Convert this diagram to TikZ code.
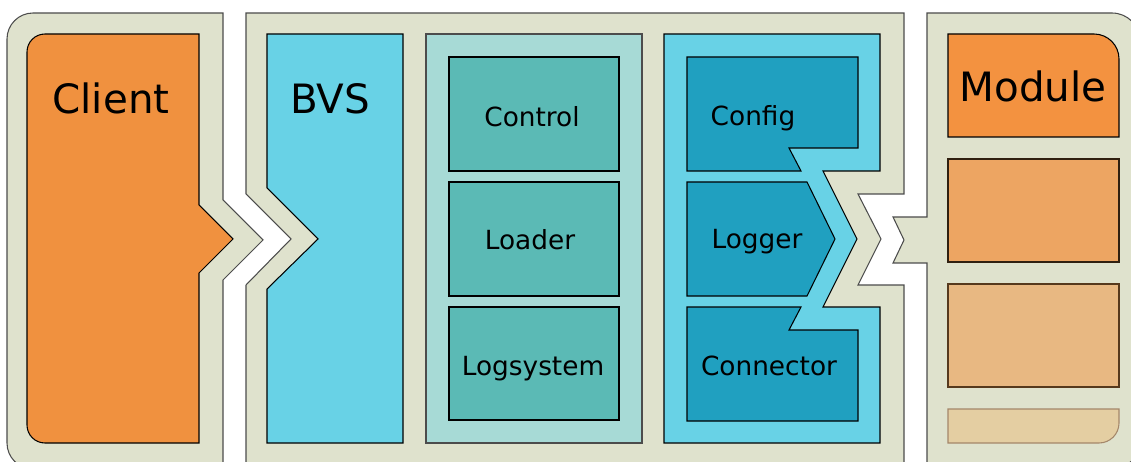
\documentclass[tikz,border=0pt]{standalone}
\usepackage{fontspec}
\setmainfont{DejaVu Sans}
\definecolor{frameclr}{HTML}{DFE2CD}
\definecolor{clientclr}{HTML}{F0913F}
\definecolor{bvsclr}{HTML}{68D2E6}
\definecolor{coreclr}{HTML}{A7DAD6}
\definecolor{coreboxclr}{HTML}{5BBAB5}
\definecolor{ioboxclr}{HTML}{20A0C0}
\definecolor{modclr}{HTML}{F39240}
\definecolor{modclrb}{HTML}{EDA562}
\definecolor{modclrc}{HTML}{E8B882}
\definecolor{modclrd}{HTML}{E4CEA2}
\begin{document}
\begin{tikzpicture}[x=0.02cm, y=-0.02cm, line join=miter,
    frame/.style={fill=frameclr, draw=black!70, line width=0.6pt},
    part/.style={draw=black, line width=0.6pt},
    bigtxt/.style={anchor=base, font=\fontsize{23}{27}\selectfont},
    smalltxt/.style={anchor=base, font=\fontsize{15}{18}\selectfont}]
	\useasboundingbox (0,0) rectangle (1131,462);
	\clip (0,0) rectangle (1131,462);
	% outer frames
	\draw[frame] (223,469) [rounded corners=0.52cm] -- (7,469) -- (7,13) [sharp corners] -- (223,13) -- (223,200) -- (263,240) -- (223,280) -- cycle;
	\draw[frame] (246,13) -- (904,13) -- (904,194) -- (858,194) -- (881,239) -- (858,285) -- (904,285) -- (904,475) -- (246,475) -- (246,285) -- (291,239) -- (246,194) -- cycle;
	\draw[frame] (927,217) -- (927,13) [rounded corners=0.56cm] -- (1140,13) -- (1140,469) [sharp corners] -- (927,469) -- (927,263) -- (893,263) -- (904,240) -- (893,217) -- cycle;
	% client
	\draw[part, fill=clientclr] (199,34) [rounded corners=0.36cm] -- (27,34) -- (27,443) [sharp corners] -- (199,443) -- (199,273) -- (233,239) -- (199,205) -- cycle;
	\node[bigtxt] (client) at (111,114) {Client};
	% bvs
	\draw[part, fill=bvsclr] (267,34) -- (403,34) -- (403,443) -- (267,443) -- (267,289) -- (318,239) -- (267,188) -- cycle;
	\node[bigtxt] (bvs) at (330,114) {BVS};
	% core
	\draw[part, draw=black!70, fill=coreclr] (426,34) rectangle (642,443);
	\draw[part, fill=coreboxclr] (449,57) rectangle (619,171);
	\draw[part, fill=coreboxclr] (449,182) rectangle (619,296);
	\draw[part, fill=coreboxclr] (449,307) rectangle (619,420);
	\node[smalltxt] (control) at (532,127) {Control};
	\node[smalltxt] (loader) at (530,250) {Loader};
	\node[smalltxt] (logsystem) at (533,375) {Logsystem};
	% io
	\draw[part, fill=bvsclr] (664,34) -- (880,34) -- (880,171) -- (823,171) -- (857,239) -- (823,307) -- (880,307) -- (880,443) -- (664,443) -- cycle;
	\draw[part, fill=ioboxclr] (687,57) -- (858,57) -- (858,148) -- (789,148) -- (801,171) -- (687,171) -- cycle;
	\draw[part, fill=ioboxclr] (687,182) -- (807,182) -- (835,239) -- (807,296) -- (687,296) -- cycle;
	\draw[part, fill=ioboxclr] (687,307) -- (801,307) -- (789,330) -- (858,330) -- (858,421) -- (687,421) -- cycle;
	\node[smalltxt] (config) at (753,126) {Config};
	\node[smalltxt] (logger) at (757,249) {Logger};
	\node[smalltxt] (connector) at (769,375) {Connector};
	% modules
	\draw[part, fill=modclr] (948,137) -- (948,34) [rounded corners=0.5cm] -- (1119,34) [sharp corners] -- (1119,137) -- cycle;
	\node[bigtxt] (module) at (1033,102) {Module};
	\draw[part, draw=black!75!brown, fill=modclrb] (948,159) rectangle (1119,262);
	\draw[part, draw=black!55!brown, fill=modclrc] (948,284) rectangle (1119,387);
	\draw[part, draw=black!35!brown!70, fill=modclrd] (948,409) -- (1119,409) [rounded corners=0.4cm] -- (1119,443) [sharp corners] -- (948,443) -- cycle;
\end{tikzpicture}
\end{document}
